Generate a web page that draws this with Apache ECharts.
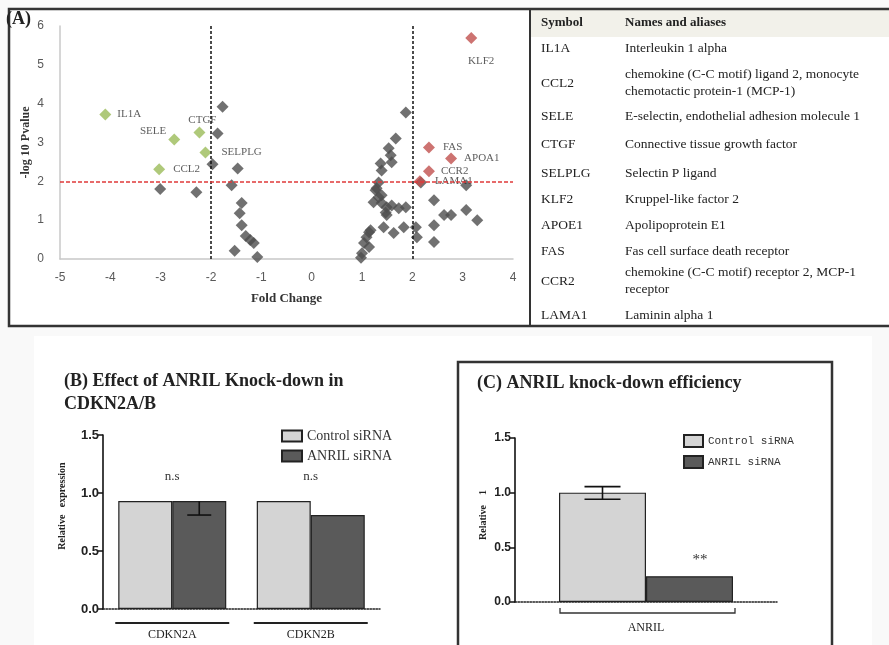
<!DOCTYPE html>
<html><head><meta charset="utf-8">
<script src="https://cdn.jsdelivr.net/npm/echarts@6/dist/echarts.min.js"></script>
<style>html,body{margin:0;padding:0;background:#f9f9f9}#c{width:889px;height:645px}</style>
</head><body><div id="c"></div>
<script>
// ---------- Panel A: volcano data ----------
const greenGenes = ['IL1A','SELE','CTGF','SELPLG','CCL2'];
const greenFC = [-4.1,-2.73,-2.23,-2.11,-3.03];
const greenP  = [3.72,3.08,3.26,2.74,2.31];
const redGenes = ['KLF2','FAS','APOA1','CCR2','LAMA1'];
const redFC = [3.17,2.33,2.77,2.33,2.15];
const redP  = [5.69,2.87,2.59,2.26,2.0];
const grayFC = [-1.77,-1.87,-1.97,-1.47,-3.01,-2.29,-1.59,-1.39,-1.43,-1.39,-1.31,-1.22,-1.15,-1.53,-1.08,
  1.87,1.67,1.53,1.57,1.59,1.37,1.39,1.33,1.27,1.39,1.33,1.23,1.39,1.49,1.59,1.73,1.87,1.47,1.49,1.43,1.63,1.83,2.07,2.09,
  1.17,1.09,1.04,1.14,1.0,0.98,1.14,2.43,2.63,2.77,3.07,3.29,2.43,2.43,2.17,3.07,1.29];
const grayP = [3.92,3.23,2.44,2.33,1.8,1.72,1.9,1.44,1.18,0.87,0.59,0.49,0.41,0.21,0.05,
  3.77,3.1,2.85,2.67,2.49,2.46,2.28,1.97,1.77,1.64,1.59,1.46,1.44,1.33,1.38,1.31,1.33,1.2,1.13,0.82,0.67,0.82,0.82,0.56,
  0.74,0.56,0.41,0.31,0.15,0.03,0.69,1.51,1.13,1.13,1.26,1.0,0.87,0.44,1.97,1.9,1.82];
const xTicksA = [-5,4,1];   // min, max, interval
const yTicksA = [0,6,1];
const foldThreshold = [-2, 2];
const pThreshold = 2;

// ---------- Table ----------
const tableSymbols = ['IL1A','CCL2','SELE','CTGF','SELPLG','KLF2','APOE1','FAS','CCR2','LAMA1'];
const tableNames = [
  ['Interleukin 1 alpha'],
  ['chemokine (C-C motif) ligand 2, monocyte','chemotactic protein-1 (MCP-1)'],
  ['E-selectin, endothelial adhesion molecule 1'],
  ['Connective tissue growth factor'],
  ['Selectin P ligand'],
  ['Kruppel-like factor 2'],
  ['Apolipoprotein E1'],
  ['Fas cell surface death receptor'],
  ['chemokine (C-C motif) receptor 2, MCP-1','receptor'],
  ['Laminin alpha 1']
];

// ---------- Panel B ----------
const catsB = ['CDKN2A','CDKN2B'];
const controlB = [0.93, 0.93];
const anrilB = [0.93, 0.81];
const anrilBErrLow = [0.12, 0];
const anrilBErrHigh = [0, 0];
const sigB = ['n.s','n.s'];

// ---------- Panel C ----------
const catsC = ['ANRIL'];
const controlC = [1.0];
const anrilC = [0.236];
const controlCErrLow = [0.06];
const controlCErrHigh = [0.055];
const sigC = ['**'];

const yTicksBC = [0, 1.5, 0.5];

const chart = echarts.init(document.getElementById('c'));
const serif = 'Liberation Serif';

function pts(xs, ys){ return xs.map((x,i)=> [x, ys[i]]); }

const labelPos = {
  IL1A:{position:'right',distance:6},
  SELE:{position:'left',distance:2,offset:[0,-8]},
  CTGF:{position:'top',distance:1,offset:[3,0]},
  SELPLG:{position:'right',distance:10},
  CCL2:{position:'right',distance:8},
  KLF2:{position:'bottom',distance:12,offset:[10,0]},
  FAS:{position:'right',distance:8},
  APOA1:{position:'right',distance:7},
  CCR2:{position:'right',distance:6},
  LAMA1:{position:'right',distance:9}
};
function labelled(xs, ys, names){
  return xs.map((x,i)=>({value:[x,ys[i]], name:names[i], label:Object.assign({show:true, formatter:names[i]}, labelPos[names[i]]||{})}));
}

function errSeries(xi, yi, vals, lo, hi, offset, cap){
  return {type:'custom', xAxisIndex:xi, yAxisIndex:yi, z:5, silent:true, encode:{x:0,y:1},
    data: vals.map((v,i)=>[i, v, lo[i], hi[i]]),
    renderItem(params, api){
      const i = api.value(0), v = api.value(1), l = api.value(2), h = api.value(3);
      if(!l && !h) return null;
      const p1 = api.coord([i, v - l]), p2 = api.coord([i, v + h]);
      const x = p1[0] + offset;
      const st = {stroke:'#111', lineWidth:1.6};
      const ch = [{type:'line', shape:{x1:x,y1:p1[1],x2:x,y2:p2[1]}, style:st}];
      if(l) ch.push({type:'line', shape:{x1:x-cap,y1:p1[1],x2:x+cap,y2:p1[1]}, style:st});
      if(h) ch.push({type:'line', shape:{x1:x-cap,y1:p2[1],x2:x+cap,y2:p2[1]}, style:st});
      return {type:'group', children:ch};
    }};
}

const barAxisY = (gi, fs) => ({gridIndex:gi, type:'value', min:yTicksBC[0], max:yTicksBC[1], interval:yTicksBC[2],
  axisLine:{show:true, onZero:false, lineStyle:{color:'#111', width:1.6}},
  axisTick:{show:true, length:5, lineStyle:{color:'#111', width:1.5}},
  axisLabel:{color:'#222', fontFamily:'Liberation Sans', fontWeight:'bold', fontSize:fs, margin:4, formatter:v=>v.toFixed(1)},
  splitLine:{show:false}});
const barAxisX = (gi, cats, fs, ff) => ({gridIndex:gi, type:'category', data:cats,
  axisLine:{show:true, onZero:false, lineStyle:{color:'#222', width:1.5, type:'dotted'}},
  axisTick:{show:false},
  axisLabel:{color:'#222', fontFamily:ff, fontSize:fs, margin:20}});

const option = {
  animation:false,
  backgroundColor:'transparent',
  grid:[
    {left:60, top:26, width:453, height:233},
    {left:103, top:435, width:277, height:174},
    {left:515, top:438, width:262, height:164}
  ],
  xAxis:[
    {gridIndex:0, type:'value', min:xTicksA[0], max:xTicksA[1], interval:xTicksA[2],
      axisLine:{show:true, onZero:false, lineStyle:{color:'#c8c8c8', width:1.5}}, axisTick:{show:false},
      axisLabel:{color:'#595959', fontFamily:'Liberation Sans', fontSize:12, margin:13},
      splitLine:{show:false},
      name:'Fold Change', nameLocation:'middle', nameGap:33,
      nameTextStyle:{fontFamily:serif, fontWeight:'bold', fontSize:13, color:'#333'}},
    barAxisX(1, catsB, 12, serif),
    barAxisX(2, catsC, 12, serif)
  ],
  yAxis:[
    {gridIndex:0, type:'value', min:yTicksA[0], max:yTicksA[1], interval:yTicksA[2],
      axisLine:{show:true, onZero:false, lineStyle:{color:'#c8c8c8', width:1.5}}, axisTick:{show:false},
      axisLabel:{color:'#595959', fontFamily:'Liberation Sans', fontSize:12, margin:16},
      splitLine:{show:false},
      name:'-log 10 Pvalue', nameLocation:'middle', nameGap:28, nameMoveOverlap:false,
      nameTextStyle:{fontFamily:serif, fontWeight:'bold', fontSize:12, color:'#333'}},
    barAxisY(1, 13),
    barAxisY(2, 12)
  ],
  legend:[
    {left:276, top:424, orient:'vertical', itemWidth:20, itemHeight:11, itemGap:6, icon:'rect',
      data:['Control siRNA','ANRIL siRNA'], textStyle:{fontFamily:serif, fontSize:14, color:'#333'}},
    {left:678, top:429, orient:'vertical', itemWidth:19, itemHeight:12, itemGap:7, icon:'rect',
      data:['Control siRNA','ANRIL siRNA'], textStyle:{fontFamily:'Liberation Mono', fontSize:11, color:'#333'}}
  ],
  series:[
    {type:'scatter', xAxisIndex:0, yAxisIndex:0, symbol:'diamond', symbolSize:12,
      itemStyle:{color:'#4d4d4d'}, data:pts(grayFC, grayP), z:3,
      markLine:{silent:true, symbol:'none', label:{show:false},
        data:[
          {xAxis:foldThreshold[0], lineStyle:{color:'#111', type:[3,2], width:1.5}},
          {xAxis:foldThreshold[1], lineStyle:{color:'#111', type:[3,2], width:1.5}},
          {yAxis:pThreshold, lineStyle:{color:'#e03a3a', type:[4,2], width:1.5}}
        ]}},
    {type:'scatter', xAxisIndex:0, yAxisIndex:0, symbol:'diamond', symbolSize:12, z:4,
      itemStyle:{color:'#9bbb59'},
      label:{fontFamily:serif, fontSize:11, color:'#333'},
      data:labelled(greenFC, greenP, greenGenes)},
    {type:'scatter', xAxisIndex:0, yAxisIndex:0, symbol:'diamond', symbolSize:12, z:4,
      itemStyle:{color:'#c0504d'},
      label:{fontFamily:serif, fontSize:11, color:'#333'},
      data:labelled(redFC, redP, redGenes)},
    {name:'Control siRNA', type:'bar', xAxisIndex:1, yAxisIndex:1, barWidth:54, barGap:'0%', data:controlB,
      itemStyle:{color:'#d4d4d4', borderColor:'#222', borderWidth:1.2}},
    {name:'ANRIL siRNA', type:'bar', xAxisIndex:1, yAxisIndex:1, barWidth:54, barGap:'0%', data:anrilB,
      itemStyle:{color:'#5a5a5a', borderColor:'#222', borderWidth:1.2}},
    errSeries(1, 1, anrilB, anrilBErrLow, anrilBErrHigh, 27, 12),
    {name:'Control siRNA', type:'bar', xAxisIndex:2, yAxisIndex:2, barWidth:87, barGap:'0%', data:controlC,
      itemStyle:{color:'#d4d4d4', borderColor:'#222', borderWidth:1.2}},
    {name:'ANRIL siRNA', type:'bar', xAxisIndex:2, yAxisIndex:2, barWidth:87, barGap:'0%', data:anrilC,
      itemStyle:{color:'#5a5a5a', borderColor:'#222', borderWidth:1.2}},
    errSeries(2, 2, controlC, controlCErrLow, controlCErrHigh, -43.5, 18)
  ]
};
chart.setOption(option);

// ---------- Decorations (boxes, table, titles, annotations) ----------
const g = [];
g.push({type:'rect', z:-10, shape:{x:9, y:9, width:890, height:317}, style:{fill:'#fff'}});
g.push({type:'rect', z:-10, shape:{x:34, y:336, width:838, height:320}, style:{fill:'#fff'}});
g.push({type:'rect', z:-5, shape:{x:531, y:10, width:360, height:27}, style:{fill:'#f2f1ea'}});
g.push({type:'rect', z:50, shape:{x:9, y:9, width:890, height:317}, style:{fill:null, stroke:'#333', lineWidth:2.5}});
g.push({type:'line', z:50, shape:{x1:530, y1:9, x2:530, y2:326}, style:{stroke:'#333', lineWidth:2}});
g.push({type:'rect', z:50, shape:{x:458, y:362, width:374, height:300}, style:{fill:null, stroke:'#333', lineWidth:2.5}});

function txt(x, y, s, font, opts){
  g.push(Object.assign({type:'text', z:60, x:x, y:y,
    style:{text:s, font:font, fill:'#222', textVerticalAlign:'middle', textAlign:'left'}}, opts||{}));
}
txt(6, 19, '(A)', 'bold 18px "Liberation Serif"');
txt(64, 381, '(B) Effect of ANRIL Knock-down in', 'bold 18px "Liberation Serif"');
txt(64, 404, 'CDKN2A/B', 'bold 18px "Liberation Serif"');
txt(477, 383, '(C) ANRIL knock-down efficiency', 'bold 18px "Liberation Serif"');
g.push({type:'text', z:60, x:62, y:506, rotation:Math.PI/2,
  style:{text:'Relative   expression', font:'bold 10px "Liberation Serif"', fill:'#222', textAlign:'center', textVerticalAlign:'middle'}});
g.push({type:'text', z:60, x:483, y:515, rotation:Math.PI/2,
  style:{text:'Relative    1', font:'bold 10px "Liberation Serif"', fill:'#222', textAlign:'center', textVerticalAlign:'middle'}});

const tFont = '13.5px "Liberation Serif"';
txt(541, 23, 'Symbol', 'bold 13px "Liberation Serif"');
txt(625, 23, 'Names and aliases', 'bold 13px "Liberation Serif"');
const rowY = [48, 83, 116, 144, 173, 199, 225, 251, 281, 315];
tableSymbols.forEach((s,i)=>{
  txt(541, rowY[i], s, tFont);
  const lines = tableNames[i];
  if(lines.length === 1) txt(625, rowY[i], lines[0], tFont);
  else { txt(625, rowY[i]-9, lines[0], tFont); txt(625, rowY[i]+8, lines[1], tFont); }
});

catsB.forEach((c,i)=>{
  const p = chart.convertToPixel({xAxisIndex:1, yAxisIndex:1}, [i, 1.14]);
  g.push({type:'text', z:60, x:p[0], y:p[1], style:{text:sigB[i], font:'13px "Liberation Serif"', fill:'#333', textAlign:'center', textVerticalAlign:'middle'}});
  const b = chart.convertToPixel({xAxisIndex:1, yAxisIndex:1}, [i, 0]);
  g.push({type:'line', z:60, shape:{x1:b[0]-57, y1:b[1]+14, x2:b[0]+57, y2:b[1]+14}, style:{stroke:'#222', lineWidth:1.8}});
});
catsC.forEach((c,i)=>{
  const p = chart.convertToPixel({xAxisIndex:2, yAxisIndex:2}, [i, 0.38]);
  g.push({type:'text', z:60, x:p[0]+54, y:p[1], style:{text:sigC[i], font:'15px "Liberation Serif"', fill:'#333', textAlign:'center', textVerticalAlign:'middle'}});
  const b = chart.convertToPixel({xAxisIndex:2, yAxisIndex:2}, [i, 0]);
  const y = b[1] + 11;
  g.push({type:'polyline', z:60, shape:{points:[[b[0]-86,y-5],[b[0]-86,y],[b[0]+89,y],[b[0]+89,y-5]]}, style:{stroke:'#333', lineWidth:1.3, fill:null}});
});
chart.setOption({graphic:g});
</script></body></html>
